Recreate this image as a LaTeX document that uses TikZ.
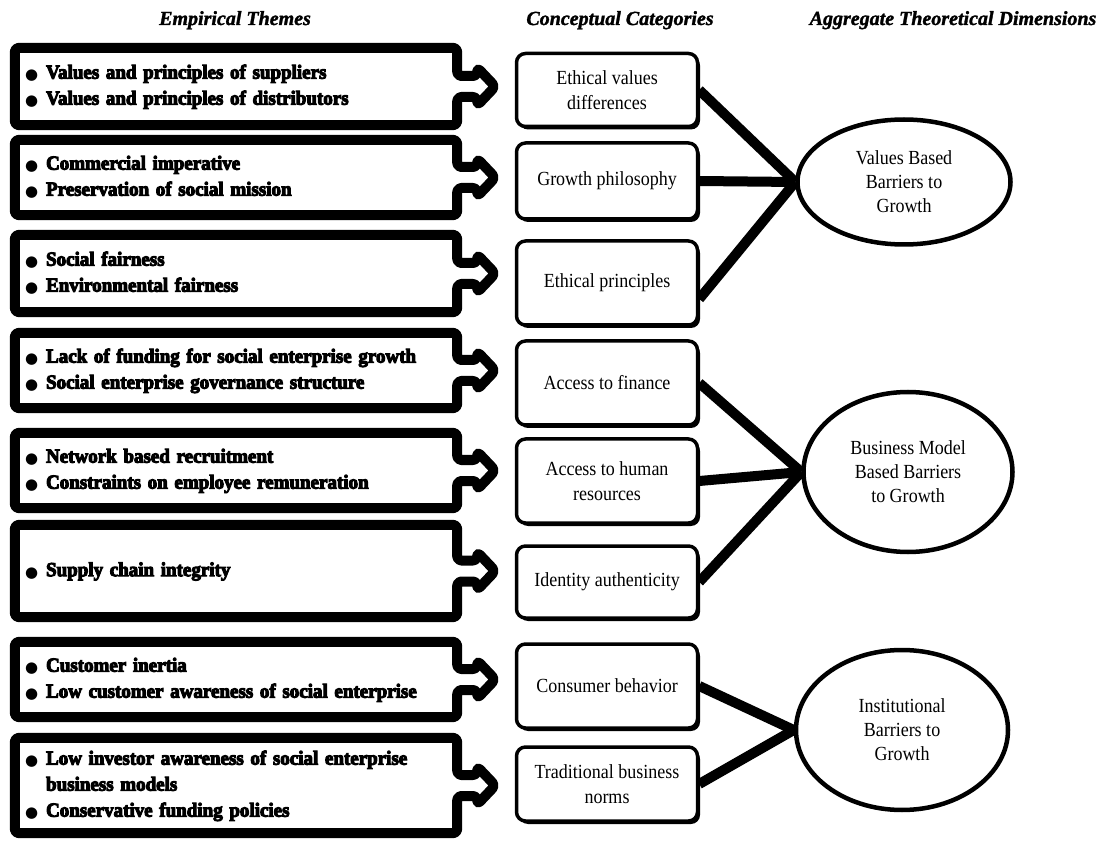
\documentclass[tikz,border=0pt]{standalone}
\usepackage{fontspec}
\setmainfont{Liberation Serif}[FakeStretch=0.9]
\newfontfamily\headserif{Liberation Serif}[FakeBold=1.5]
\newfontfamily\themeserif{Liberation Serif Bold}[FakeStretch=0.95,FakeBold=5]
\newfontfamily\dotfont{DejaVu Sans}
\newcommand{\themedot}{\raisebox{-1pt}{\dotfont\fontsize{15}{26}\selectfont ●}}
\usetikzlibrary{shapes.geometric,shadows,calc,backgrounds}

\begin{document}
\begin{tikzpicture}[x=1pt, y=-1pt,
    theme/.style = {minimum width=442pt, text width=422pt, inner xsep=10pt, inner ysep=0pt, align=left, font=\themeserif\fontsize{20}{26}\selectfont},
    outline/.style = {line width=10pt, rounded corners=4pt, line join=round},
    cat/.style = {draw, line width=3.5pt, rounded corners=9pt, fill=white, minimum width=181pt, align=center, font=\fontsize{20}{24.5}\selectfont, drop shadow={fill=black, opacity=1, shadow xshift=2.5pt, shadow yshift=-3pt}},
    dim/.style = {draw, ellipse, line width=4.5pt, fill=white, inner sep=0pt, align=center, font=\fontsize{20}{24}\selectfont},
    head/.style = {anchor=base, font=\headserif\bfseries\itshape\fontsize{20}{24}\selectfont},
    link/.style = {line width=10pt}]

    \useasboundingbox (0,0) rectangle (1104,842);

    % column headings
    \node[head] (h1) at (235,25) {Empirical Themes};
    \node[head] (h2) at (620,25) {Conceptual Categories};
    \node[head] (h3) at (953,25) {Aggregate Theoretical Dimensions};

    % empirical themes
    \node[theme, minimum height=77pt] (t1) at (236,86.5) {\begin{tabular}{@{}l@{\hspace{8pt}}l@{}}\themedot & Values and principles of suppliers\\ \themedot & Values and principles of distributors\end{tabular}};
    \node[theme, minimum height=75pt] (t2) at (236,177.5) {\begin{tabular}{@{}l@{\hspace{8pt}}l@{}}\themedot & Commercial imperative\\ \themedot & Preservation of social mission\end{tabular}};
    \node[theme, minimum height=77pt] (t3) at (236,273.5) {\begin{tabular}{@{}l@{\hspace{8pt}}l@{}}\themedot & Social fairness\\ \themedot & Environmental fairness\end{tabular}};
    \node[theme, minimum height=75pt] (t4) at (236,370.5) {\begin{tabular}{@{}l@{\hspace{8pt}}l@{}}\themedot & Lack of funding for social enterprise growth\\ \themedot & Social enterprise governance structure\end{tabular}};
    \node[theme, minimum height=75pt] (t5) at (236,470.5) {\begin{tabular}{@{}l@{\hspace{8pt}}l@{}}\themedot & Network based recruitment\\ \themedot & Constraints on employee remuneration\end{tabular}};
    \node[theme, minimum height=92pt] (t6) at (236,571) {\begin{tabular}{@{}l@{\hspace{8pt}}l@{}}\themedot & Supply chain integrity\end{tabular}};
    \node[theme, minimum height=75pt] (t7) at (236,679.5) {\begin{tabular}{@{}l@{\hspace{8pt}}l@{}}\themedot & Customer inertia\\ \themedot & Low customer awareness of social enterprise\end{tabular}};
    \node[theme, minimum height=95pt] (t8) at (236,785.5) {\begin{tabular}{@{}l@{\hspace{8pt}}l@{}}\themedot & Low investor awareness of social enterprise\\ & business models\\ \themedot & Conservative funding policies\end{tabular}};

    \foreach \i in {1,...,8}
        \draw[outline] (t\i.north west) -- (t\i.north east) -- ($(t\i.east)+(0,-10.5)$) -- ($(t\i.east)+(20,-10.5)$)
            -- ($(t\i.east)+(20,-19)$) -- ($(t\i.east)+(38,0)$) -- ($(t\i.east)+(20,19)$) -- ($(t\i.east)+(20,10.5)$)
            -- ($(t\i.east)+(0,10.5)$) -- (t\i.south east) -- (t\i.south west) -- cycle;

    % conceptual categories
    \node[cat, minimum height=73pt] (c1) at (607,90) {Ethical values\\differences};
    \node[cat, minimum height=76pt] (c2) at (607,181) {Growth philosophy};
    \node[cat, minimum height=84pt] (c3) at (607,283) {Ethical principles};
    \node[cat, minimum height=84pt] (c4) at (607,383) {Access to finance};
    \node[cat, minimum height=84pt] (c5) at (607,481) {Access to human\\resources};
    \node[cat, minimum height=72pt] (c6) at (607,582) {Identity authenticity};
    \node[cat, minimum height=84pt] (c7) at (607,686) {Consumer behavior};
    \node[cat, minimum height=74pt] (c8) at (607,784) {Traditional business\\norms};

    % aggregate dimensions
    \node[dim, minimum width=213pt, minimum height=125pt] (d1) at (904,182) {Values Based\\Barriers to\\Growth};
    \node[dim, minimum width=209pt, minimum height=160pt] (d2) at (908,472) {Business Model\\Based Barriers\\to Growth};
    \node[dim, minimum width=212pt, minimum height=160pt] (d3) at (902,730) {Institutional\\Barriers to\\Growth};

    \begin{scope}[on background layer]
        \fill[white] (0,0) rectangle (1104,842);
        \draw[link] (c1.east) -- (d1.west);
        \draw[link] (c2.east) -- (d1.west);
        \draw[link] ([yshift=-16pt]c3.east) -- (d1.west);
        \draw[link] (c4.east) -- (d2.west);
        \draw[link] (c5.east) -- (d2.west);
        \draw[link] (c6.east) -- (d2.west);
        \draw[link] (c7.east) -- (d3.west);
        \draw[link] (c8.east) -- (d3.west);
    \end{scope}

\end{tikzpicture}
\end{document}
